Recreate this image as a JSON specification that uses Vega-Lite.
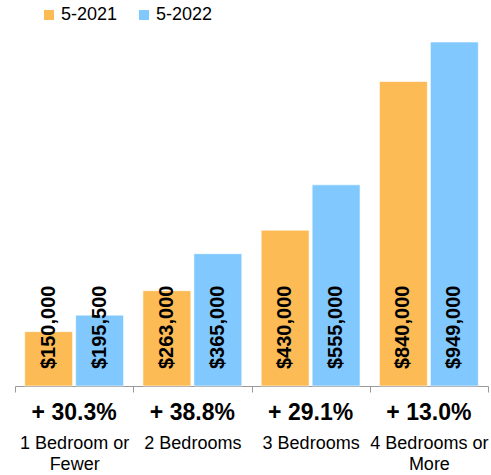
{
  "$schema": "https://vega.github.io/schema/vega-lite/v6.json",
  "width": 473,
  "height": 344,
  "autosize": {"type": "none"},
  "padding": {"left": 15, "top": 42, "right": 3, "bottom": 89},
  "config": {
    "view": {"stroke": null},
    "font": "Liberation Sans",
    "legend": {
      "orient": "none",
      "direction": "horizontal",
      "legendX": 25,
      "legendY": -36,
      "symbolType": "square",
      "symbolSize": 100,
      "symbolStrokeWidth": 0,
      "labelFontSize": 18,
      "labelColor": "#000000",
      "labelOffset": 3,
      "columnPadding": 17
    }
  },
  "data": {
    "values": [
      {"category": "1 Bedroom or Fewer", "pct": "+ 30.3%", "year": "5-2021", "price": 150000, "label": "$150,000"},
      {"category": "1 Bedroom or Fewer", "pct": "+ 30.3%", "year": "5-2022", "price": 195500, "label": "$195,500"},
      {"category": "2 Bedrooms", "pct": "+ 38.8%", "year": "5-2021", "price": 263000, "label": "$263,000"},
      {"category": "2 Bedrooms", "pct": "+ 38.8%", "year": "5-2022", "price": 365000, "label": "$365,000"},
      {"category": "3 Bedrooms", "pct": "+ 29.1%", "year": "5-2021", "price": 430000, "label": "$430,000"},
      {"category": "3 Bedrooms", "pct": "+ 29.1%", "year": "5-2022", "price": 555000, "label": "$555,000"},
      {"category": "4 Bedrooms or More", "pct": "+ 13.0%", "year": "5-2021", "price": 840000, "label": "$840,000"},
      {"category": "4 Bedrooms or More", "pct": "+ 13.0%", "year": "5-2022", "price": 949000, "label": "$949,000"}
    ]
  },
  "layer": [
    {
      "encoding": {
        "x": {
          "field": "category", "type": "nominal", "sort": null,
          "scale": {"paddingInner": 0, "paddingOuter": 0},
          "axis": {
            "title": null,
            "orient": "bottom",
            "tickBand": "extent",
            "domainColor": "#999999",
            "tickColor": "#999999",
            "tickSize": 6,
            "labelAngle": 0,
            "labelFontSize": 18,
            "labelColor": "#000000",
            "labelPadding": 42,
            "labelBaseline": "top",
            "labelLineHeight": 21,
            "labelExpr": "datum.value == '1 Bedroom or Fewer' ? ['1 Bedroom or', 'Fewer'] : datum.value == '4 Bedrooms or More' ? ['4 Bedrooms or', 'More'] : datum.value"
          }
        },
        "xOffset": {
          "field": "year", "type": "nominal",
          "scale": {"paddingInner": 0.06, "paddingOuter": 0.19}
        }
      },
      "layer": [
        {
          "mark": {"type": "bar", "stroke": "white", "strokeOpacity": 0.6, "strokeWidth": 1},
          "encoding": {
            "y": {
              "field": "price", "type": "quantitative",
              "scale": {"domain": [0, 949000], "nice": false},
              "axis": null
            },
            "color": {
              "field": "year", "type": "nominal",
              "scale": {"domain": ["5-2021", "5-2022"], "range": ["#FDBB55", "#80C8FE"]},
              "legend": {"title": null}
            }
          }
        },
        {
          "mark": {"type": "text", "angle": 270, "align": "left", "baseline": "middle", "dx": 17, "fontSize": 20, "fontWeight": "bold", "color": "#000000"},
          "encoding": {
            "y": {"datum": 0, "type": "quantitative"},
            "text": {"field": "label"}
          }
        }
      ]
    },
    {
      "mark": {"type": "tick", "opacity": 0},
      "encoding": {
        "x": {
          "field": "pct", "type": "nominal", "sort": null,
          "scale": {"paddingInner": 0, "paddingOuter": 0},
          "axis": {
            "title": null,
            "orient": "bottom",
            "domain": false,
            "ticks": false,
            "labelAngle": 0,
            "labelFontSize": 23,
            "labelFontWeight": "bold",
            "labelColor": "#000000",
            "labelBaseline": "top",
            "labelPadding": 15
          }
        },
        "y": {"datum": 0, "type": "quantitative"}
      }
    }
  ],
  "resolve": {"scale": {"x": "independent"}, "axis": {"x": "independent"}}
}
